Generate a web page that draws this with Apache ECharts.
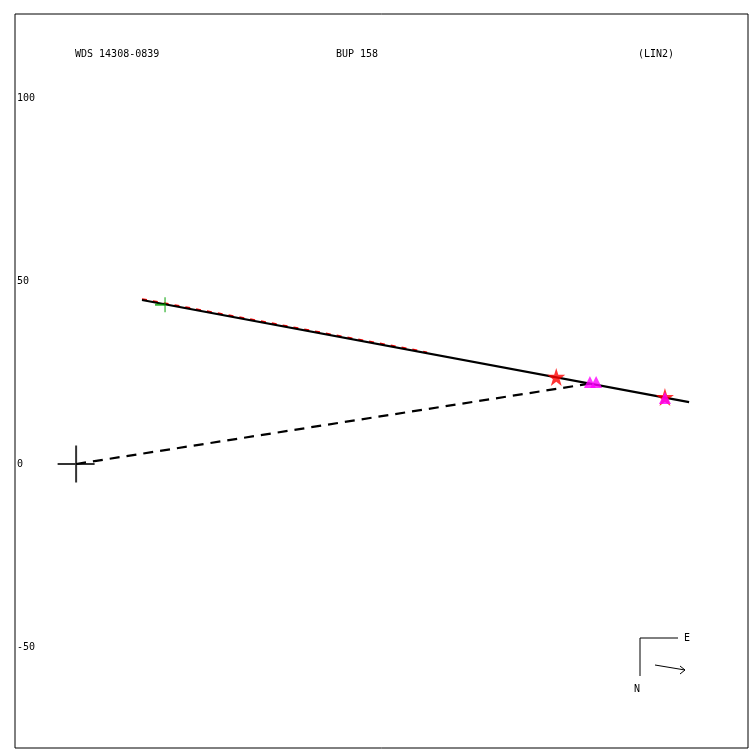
<!DOCTYPE html>
<html><head><meta charset="utf-8">
<script src="https://cdn.jsdelivr.net/npm/echarts@6/dist/echarts.min.js"></script>
<style>html,body{margin:0;padding:0;background:#fff}#c{width:750px;height:750px}</style>
</head><body><div id="c"></div>
<script>
const headerTexts = ['WDS 14308-0839', 'BUP 158', '(LIN2)'];
const yTickValues = [-50, 0, 50, 100];
const orbitLine = [[18.0, 44.8], [167.5, 16.9]];
const redTrace = [[18.0, 45.05], [95.9, 30.5]];
const dashedLine = [[0, 0], [141.3, 22.1]];
const starPoints = [[131.2, 23.8], [160.9, 18.3]];
const trianglePoints = [[140.4, 22.4], [142.1, 22.4], [160.9, 18.0]];
const originMark = [[0, 0]];
const tickMark = [[24.3, 43.5]];

const font = 'DejaVu Sans Mono';
const starPath = 'path://M50,0 L61,35 L98,35 L68,57 L79,91 L50,70 L21,91 L32,57 L2,35 L39,35 Z';
const chart = echarts.init(document.getElementById('c'), null, {renderer: 'canvas'});
chart.setOption({
  animation: false,
  backgroundColor: '#fff',
  grid: {left: 15, top: 14, width: 733, height: 734, show: true, borderColor: '#000', borderWidth: 1, backgroundColor: 'transparent'},
  xAxis: {type: 'value', min: -16.7, max: 183.6, axisLine: {show: false}, axisTick: {show: false}, axisLabel: {show: false}, splitLine: {show: false}},
  yAxis: {type: 'value', min: -77.6, max: 122.95,
    axisLine: {show: false}, axisTick: {show: false}, splitLine: {show: false},
    axisLabel: {show: true, inside: true, margin: 2, customValues: yTickValues, fontFamily: font, fontSize: 10, color: '#000'}},
  graphic: [
    {type: 'text', left: 75, top: 49, style: {text: headerTexts[0], font: '10px ' + font, fill: '#000'}},
    {type: 'text', left: 336, top: 49, style: {text: headerTexts[1], font: '10px ' + font, fill: '#000'}},
    {type: 'text', left: 638, top: 49, style: {text: headerTexts[2], font: '10px ' + font, fill: '#000'}},
    {type: 'polyline', shape: {points: [[678, 638], [640, 638], [640, 676]]}, style: {stroke: '#000', lineWidth: 1, fill: null}},
    {type: 'text', left: 684, top: 633, style: {text: 'E', font: '10px ' + font, fill: '#000'}},
    {type: 'text', left: 634, top: 684, style: {text: 'N', font: '10px ' + font, fill: '#000'}},
    {type: 'polyline', shape: {points: [[655, 665], [685, 670]]}, style: {stroke: '#000', lineWidth: 1, fill: null}},
    {type: 'polyline', shape: {points: [[680, 666], [685, 670], [680, 674]]}, style: {stroke: '#000', lineWidth: 1, fill: null}}
  ],
  series: [
    {type: 'line', data: redTrace, symbol: 'none', z: 2, lineStyle: {color: '#ff0000', width: 2, type: [5, 6]}},
    {type: 'line', data: orbitLine, symbol: 'none', z: 3, lineStyle: {color: '#000', width: 2.2}},
    {type: 'line', data: dashedLine, symbol: 'none', z: 3, lineStyle: {color: '#000', width: 2.2, type: [10, 7]}},
    {type: 'scatter', data: tickMark, z: 4, symbol: 'path://M10,0 L10,28 M0,14 L10,14', symbolSize: [10, 15], symbolOffset: [-5, 0], itemStyle: {color: 'none', borderColor: '#00a000', borderWidth: 1.5}},
    {type: 'scatter', data: originMark, z: 4, symbol: 'path://M0,18 L36,18 M18,0 L18,36', symbolSize: 37, itemStyle: {color: 'none', borderColor: '#000', borderWidth: 2}},
    {type: 'scatter', data: starPoints, z: 5, symbol: starPath, symbolSize: 18, itemStyle: {color: '#ff0000'}},
    {type: 'scatter', data: trianglePoints, z: 6, symbol: 'triangle', symbolSize: [12, 12], itemStyle: {color: '#ff00ff'}}
  ]
});
</script></body></html>
